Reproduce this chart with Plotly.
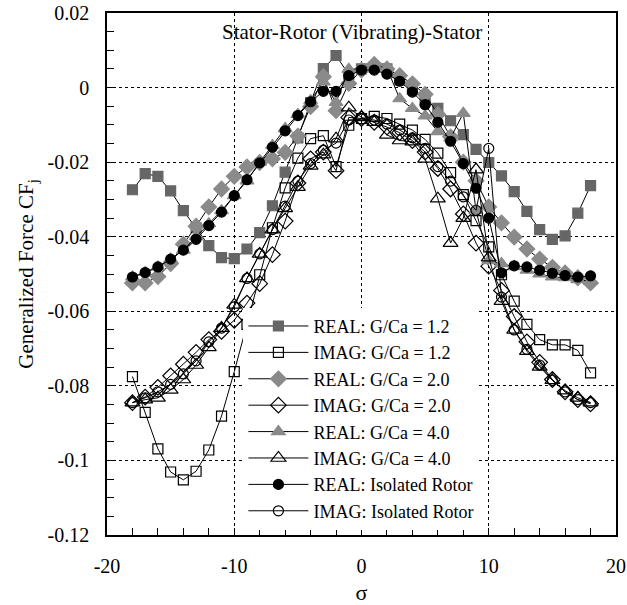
import plotly.graph_objects as go

sigma = list(range(-18, 19))

real_12 = [-0.0274, -0.0231, -0.0238, -0.0277, -0.0330, -0.0376, -0.0424, -0.0456, -0.0459, -0.0433,
           -0.0389, -0.0317, -0.0227, -0.0135, -0.0040, 0.0051, 0.0086, 0.0035, 0.0050, 0.0055,
           0.0050, 0.0020, -0.0005, -0.0035, -0.0056, -0.0089, -0.0126, -0.0166, -0.0201, -0.0237,
           -0.0279, -0.0332, -0.0381, -0.0407, -0.0398, -0.0337, -0.0263]
imag_12 = [-0.0775, -0.0871, -0.0969, -0.1031, -0.1052, -0.1029, -0.0972, -0.0881, -0.0762, -0.0635,
           -0.0502, -0.0376, -0.0269, -0.0189, -0.0137, -0.0129, -0.0212, -0.0101, -0.0083, -0.0077,
           -0.0083, -0.0098, -0.0114, -0.0139, -0.0176, -0.0228, -0.0287, -0.0357, -0.0427, -0.0502,
           -0.0573, -0.0635, -0.0676, -0.0690, -0.0690, -0.0705, -0.0765]
real_20 = [-0.0524, -0.0524, -0.0507, -0.0472, -0.0420, -0.0372, -0.0320, -0.0272, -0.0238, -0.0213,
           -0.0201, -0.0191, -0.0174, -0.0130, -0.0051, 0.0029, -0.0062, 0.0011, 0.0047, 0.0062,
           0.0050, 0.0032, 0.0010, -0.0018, -0.0072, -0.0132, -0.0200, -0.0250, -0.0320, -0.0363,
           -0.0401, -0.0433, -0.0460, -0.0482, -0.0497, -0.0510, -0.0524]
imag_20 = [-0.0845, -0.0830, -0.0804, -0.0773, -0.0742, -0.0710, -0.0676, -0.0654, -0.0624, -0.0578,
           -0.0526, -0.0448, -0.0358, -0.0256, -0.0191, -0.0173, -0.0223, -0.0080, -0.0083, -0.0093,
           -0.0106, -0.0121, -0.0142, -0.0173, -0.0217, -0.0272, -0.0339, -0.0417, -0.0479, -0.0544,
           -0.0614, -0.0682, -0.0737, -0.0783, -0.0816, -0.0837, -0.0848]
real_40 = [-0.0508, -0.0496, -0.0481, -0.0460, -0.0436, -0.0400, -0.0365, -0.0330, -0.0290, -0.0250,
           -0.0200, -0.0155, -0.0110, -0.0072, -0.0035, 0.0015, -0.0040, 0.0049, 0.0050, 0.0060,
           0.0052, -0.0030, -0.0056, -0.0076, -0.0118, -0.0135, -0.0069, -0.0330, -0.0464, -0.0472,
           -0.0480, -0.0490, -0.0500, -0.0508, -0.0510, -0.0515, -0.0520]
imag_40 = [-0.0845, -0.0837, -0.0832, -0.0811, -0.0783, -0.0744, -0.0697, -0.0645, -0.0583, -0.0512,
           -0.0446, -0.0381, -0.0324, -0.0267, -0.0210, -0.0180, -0.0137, -0.0054, -0.0080, -0.0093,
           -0.0127, -0.0142, -0.0145, -0.0191, -0.0298, -0.0417, -0.0350, -0.0220, -0.0456, -0.0573,
           -0.0650, -0.0707, -0.0749, -0.0785, -0.0813, -0.0832, -0.0845]
real_iso = [-0.0508, -0.0496, -0.0481, -0.0460, -0.0436, -0.0407, -0.0370, -0.0334, -0.0290, -0.0247,
            -0.0202, -0.0160, -0.0116, -0.0075, -0.0038, -0.0010, -0.0010, 0.0032, 0.0047, 0.0047,
            0.0036, 0.0017, -0.0012, -0.0046, -0.0093, -0.0144, -0.0204, -0.0270, -0.0350, -0.0497,
            -0.0478, -0.0481, -0.0490, -0.0498, -0.0504, -0.0508, -0.0505]
imag_iso = [-0.0845, -0.0832, -0.0816, -0.0796, -0.0768, -0.0733, -0.0682, -0.0645, -0.0588, -0.0512,
            -0.0446, -0.0381, -0.0318, -0.0251, -0.0204, -0.0168, -0.0149, -0.0087, -0.0085, -0.0087,
            -0.0098, -0.0114, -0.0135, -0.0163, -0.0212, -0.0251, -0.0293, -0.0329, -0.0163, -0.0562,
            -0.0650, -0.0702, -0.0744, -0.0785, -0.0816, -0.0837, -0.0845]

series_names = ["REAL: G/Ca = 1.2", "IMAG: G/Ca = 1.2", "REAL: G/Ca = 2.0", "IMAG: G/Ca = 2.0",
                "REAL: G/Ca = 4.0", "IMAG: G/Ca = 4.0", "REAL: Isolated Rotor", "IMAG: Isolated Rotor"]
series_values = [real_12, imag_12, real_20, imag_20, real_40, imag_40, real_iso, imag_iso]
symbols = ["square", "square-open", "diamond", "diamond-open", "triangle-up", "triangle-up-open",
           "circle", "circle-open"]
colors = ["#666666", "#000000", "#8a8a8a", "#000000", "#8a8a8a", "#000000", "#000000", "#000000"]
sizes = [10, 10, 12, 12, 12, 13, 10, 10]

x_ticks = [-20, -10, 0, 10, 20]
x_labels = ["-20", "-10", "0", "10", "20"]
y_ticks = [0.02, 0, -0.02, -0.04, -0.06, -0.08, -0.1, -0.12]
y_labels = ["0.02", "0", "-0.02", "-0.04", "-0.06", "-0.08", "-0.1", "-0.12"]

FONT = "Liberation Serif, Times New Roman, serif"

fig = go.Figure()
for name, vals, sym, col, sz in zip(series_names, series_values, symbols, colors, sizes):
    fig.add_trace(go.Scatter(
        x=sigma, y=vals, name=name, mode="lines+markers",
        line=dict(color="black", width=1),
        marker=dict(symbol=sym, size=sz, color=col,
                    line=dict(color=col, width=1.2)),
    ))

fig.update_layout(
    width=627, height=605,
    margin=dict(l=107, r=11, t=13, b=70),
    paper_bgcolor="white", plot_bgcolor="white",
    font=dict(family=FONT, size=20, color="black"),
    legend=dict(x=0.268, y=0.01, xanchor="left", yanchor="bottom",
                bgcolor="white", font=dict(family=FONT, size=18),
                tracegroupgap=0, itemwidth=60),
    annotations=[dict(text="Stator-Rotor (Vibrating)-Stator", xref="paper", yref="paper",
                      x=0.481, y=0.99, yanchor="top", showarrow=False,
                      font=dict(family=FONT, size=21))],
)
fig.update_xaxes(
    range=[-20, 20], tickvals=x_ticks, ticktext=x_labels, automargin=False,
    showline=True, linecolor="black", linewidth=1.5, mirror=True,
    ticks="inside", ticklen=7, tickcolor="black",
    minor=dict(dtick=2, tick0=0, ticks="inside", ticklen=7, tickcolor="black", showgrid=False),
    showgrid=True, gridcolor="black", griddash="dot", gridwidth=1,
    zeroline=False, ticklabelstandoff=12,
    title=dict(text="σ", font=dict(family=FONT, size=22), standoff=12),
    tickfont=dict(family=FONT, size=20),
)
fig.update_yaxes(
    range=[-0.12, 0.02], tickvals=y_ticks, ticktext=y_labels, automargin=False,
    showline=True, linecolor="black", linewidth=1.5, mirror=True,
    ticks="inside", ticklen=7, tickcolor="black",
    minor=dict(dtick=0.005, tick0=0, ticks="inside", ticklen=7, tickcolor="black", showgrid=False),
    showgrid=True, gridcolor="black", griddash="dot", gridwidth=1,
    zeroline=False, ticklabelstandoff=12,
    title=dict(text="Generalized Force CF<sub>j</sub>", font=dict(family=FONT, size=21), standoff=8),
    tickfont=dict(family=FONT, size=20),
)

fig.write_html("out.html")
